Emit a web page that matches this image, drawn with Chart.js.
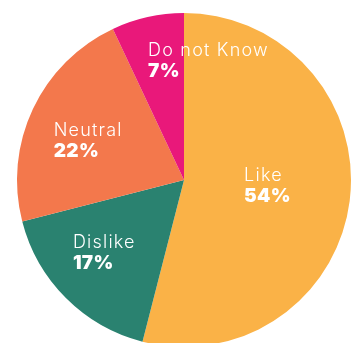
<!DOCTYPE html>
<html>
<head>
<meta charset="utf-8">
<script src="https://cdn.jsdelivr.net/npm/chart.js@4"></script>
<style>
  html, body { margin: 0; padding: 0; background: #fff; overflow: hidden; }
  #wrap { width: 356px; height: 360px; }
</style>
</head>
<body>
<div id="wrap"><canvas id="pieChart" width="356" height="360"></canvas></div>
<script>
const labels = ["Like", "Dislike", "Neutral", "Do not Know"];
const shares = [54, 17, 22, 7];
const sliceColors = ["#FAB247", "#2A8270", "#F3784C", "#E9187A"];

// where each label block sits, as a fraction of the radius from the centre
const labelSpots = [
  [0.36, 0.03],
  [-0.665, 0.43],
  [-0.78, -0.24],
  [-0.215, -0.72],
];

const sliceLabels = {
  id: "sliceLabels",
  afterDatasetsDraw(chart) {
    const ctx = chart.ctx;
    const arcs = chart.getDatasetMeta(0).data;
    ctx.save();
    ctx.fillStyle = "#fff";
    ctx.textAlign = "left";
    ctx.textBaseline = "alphabetic";
    arcs.forEach((arc, i) => {
      const r = arc.outerRadius;
      const x = arc.x + labelSpots[i][0] * r;
      const y = arc.y + labelSpots[i][1] * r;
      ctx.letterSpacing = "1.2px";
      ctx.font = "300 18px Inter";
      ctx.fillText(labels[i], x, y - 4);
      ctx.letterSpacing = "0.3px";
      ctx.font = "900 19px Inter";
      ctx.fillText(shares[i] + "%", x, y + 17);
    });
    ctx.restore();
  },
};

new Chart(document.getElementById("pieChart"), {
  type: "pie",
  data: {
    labels: labels,
    datasets: [
      {
        data: shares,
        backgroundColor: sliceColors,
        borderWidth: 0,
        hoverOffset: 0,
      },
    ],
  },
  options: {
    responsive: false,
    animation: false,
    layout: { padding: { left: 17, right: 5, top: 13, bottom: 13 } },
    plugins: {
      legend: { display: false },
      tooltip: { enabled: false },
    },
  },
  plugins: [sliceLabels],
});
</script>
</body>
</html>
